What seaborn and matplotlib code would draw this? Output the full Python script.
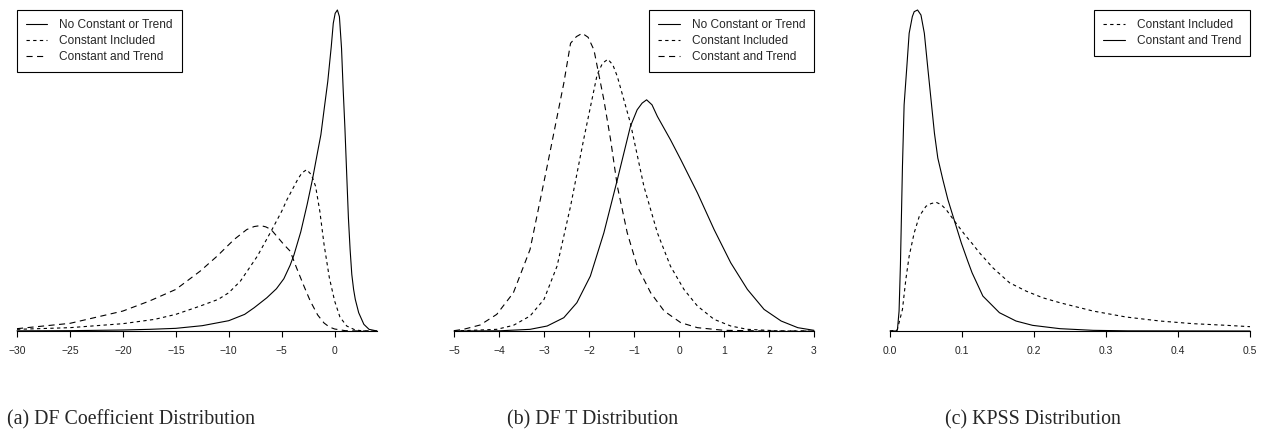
import pandas as pd
import matplotlib.pyplot as plt
import seaborn as sns

# ---- (a) DF coefficient distribution ----
a_none_x = [-30, -25, -20, -17.5, -15, -12.5, -10, -8.5, -7.6, -6.4, -5.5, -4.8, -4.2, -3.85, -3.2,
            -2.6, -2.1, -1.6, -1.3, -0.97, -0.65, -0.32, -0.13, 0.05, 0.26, 0.45, 0.65, 0.8, 0.97,
            1.14, 1.3, 1.46, 1.62, 1.79, 1.95, 2.27, 2.76, 3.25, 4.0]
a_none_y = [0.0005, 0.001, 0.003, 0.005, 0.008, 0.016, 0.031, 0.050, 0.070, 0.100, 0.127, 0.157, 0.198,
            0.228, 0.298, 0.380, 0.455, 0.540, 0.590, 0.672, 0.750, 0.855, 0.925, 0.955, 0.965, 0.945,
            0.850, 0.730, 0.610, 0.470, 0.340, 0.245, 0.170, 0.125, 0.095, 0.055, 0.020, 0.005, 0.0]
a_const_x = [-30, -25, -20, -17, -15, -12.7, -11, -10, -8.9, -7.3, -6.0, -5.0, -4.5, -3.5, -3.1, -2.65,
             -2.2, -1.8, -1.4, -1.0, -0.5, 0.0, 0.5, 1.14, 1.95, 2.8, 4.0]
a_const_y = [0.005, 0.010, 0.022, 0.035, 0.050, 0.075, 0.095, 0.115, 0.150, 0.225, 0.300, 0.360, 0.395,
             0.455, 0.475, 0.485, 0.470, 0.435, 0.360, 0.260, 0.160, 0.090, 0.042, 0.015, 0.003, 0.0,
             0.0]
a_trend_x = [-30, -25, -20, -17.5, -15, -12.7, -11.1, -9.5, -8.3, -7.6, -7.0, -6.5, -6.0, -4.8, -4.2,
             -3.6, -2.9, -2.3, -1.6, -1.0, -0.5, 0.0, 1.0, 2.5, 4.0]
a_trend_y = [0.007, 0.023, 0.060, 0.090, 0.125, 0.180, 0.225, 0.275, 0.305, 0.314, 0.317, 0.313, 0.305,
             0.260, 0.240, 0.190, 0.135, 0.090, 0.048, 0.024, 0.012, 0.006, 0.001, 0.0, 0.0]

# ---- (b) DF t distribution ----
b_none_x = [-5, -4, -3.31, -2.93, -2.56, -2.27, -1.97, -1.67, -1.37, -1.08, -0.93, -0.82, -0.72, -0.6,
            -0.48, -0.19, 0.04, 0.41, 0.78, 1.15, 1.52, 1.89, 2.27, 2.64, 3.0]
b_none_y = [0.0, 0.0005, 0.005, 0.015, 0.040, 0.085, 0.165, 0.295, 0.455, 0.615, 0.665, 0.685, 0.695,
            0.680, 0.645, 0.575, 0.515, 0.415, 0.305, 0.205, 0.125, 0.065, 0.030, 0.010, 0.002]
b_const_x = [-5, -4.05, -3.68, -3.31, -3.0, -2.71, -2.41, -2.12, -1.82, -1.70, -1.58, -1.47, -1.37,
             -1.08, -0.78, -0.48, -0.19, 0.11, 0.41, 0.78, 1.15, 1.52, 2.27, 3.0]
b_const_y = [0.0, 0.005, 0.017, 0.045, 0.095, 0.195, 0.375, 0.575, 0.770, 0.805, 0.817, 0.800, 0.765,
             0.625, 0.435, 0.295, 0.195, 0.125, 0.075, 0.035, 0.015, 0.005, 0.0, 0.0]
b_trend_x = [-5, -4.79, -4.42, -4.05, -3.68, -3.31, -2.93, -2.56, -2.41, -2.28, -2.15, -2.02, -1.89,
             -1.67, -1.52, -1.37, -1.15, -0.93, -0.63, -0.33, 0.04, 0.41, 1.0, 2.0, 3.0]
b_trend_y = [0.001, 0.005, 0.018, 0.050, 0.115, 0.245, 0.495, 0.745, 0.865, 0.885, 0.895, 0.883, 0.845,
             0.695, 0.575, 0.435, 0.295, 0.195, 0.115, 0.060, 0.025, 0.010, 0.002, 0.0, 0.0]

# ---- (c) KPSS distribution ----
c_const_x = [0.0, 0.0100, 0.0173, 0.022, 0.0266, 0.0336, 0.0407, 0.050, 0.057, 0.064, 0.071, 0.078,
             0.0897, 0.1037, 0.1145, 0.1243, 0.1429, 0.166, 0.189, 0.212, 0.236, 0.282, 0.328, 0.375,
             0.421, 0.468, 0.5]
c_const_y = [0.0, 0.003, 0.065, 0.155, 0.225, 0.295, 0.345, 0.375, 0.383, 0.387, 0.380, 0.365, 0.330,
             0.290, 0.262, 0.235, 0.190, 0.145, 0.120, 0.100, 0.085, 0.060, 0.042, 0.030, 0.022,
             0.017, 0.013]
c_trend_x = [0.0, 0.0080, 0.0103, 0.0126, 0.0145, 0.0173, 0.0196, 0.0234, 0.0266, 0.031, 0.0336,
             0.0383, 0.043, 0.0477, 0.0523, 0.057, 0.0617, 0.0664, 0.0734, 0.0804, 0.0897, 0.099,
             0.108, 0.114, 0.129, 0.152, 0.175, 0.198, 0.236, 0.282, 0.33, 0.5]
c_trend_y = [0.0, 0.0, 0.003, 0.060, 0.200, 0.495, 0.680, 0.795, 0.895, 0.945, 0.960, 0.965, 0.950,
             0.895, 0.795, 0.695, 0.595, 0.520, 0.455, 0.395, 0.330, 0.265, 0.210, 0.175, 0.105,
             0.055, 0.030, 0.017, 0.007, 0.002, 0.0005, 0.0]

captions = ["(a) DF Coefficient Distribution", "(b) DF T Distribution", "(c) KPSS Distribution"]


def make_frame(parts):
    frames = []
    for name, xs, ys in parts:
        frames.append(pd.DataFrame({"x": xs, "density": ys, "series": name}))
    return pd.concat(frames, ignore_index=True)


sns.set_style("white")
plt.rcParams["font.family"] = ["Liberation Sans", "DejaVu Sans"]

dash_map = {
    "No Constant or Trend": "",
    "Constant Included": (3, 3),
    "Constant and Trend": (5.5, 4),
}

panels = [
    {
        "df": make_frame([("No Constant or Trend", a_none_x, a_none_y),
                          ("Constant Included", a_const_x, a_const_y),
                          ("Constant and Trend", a_trend_x, a_trend_y)]),
        "order": ["No Constant or Trend", "Constant Included", "Constant and Trend"],
        "dashes": dash_map,
        "xlim": (-30, 4), "ticks": [-30, -25, -20, -15, -10, -5, 0],
        "labels": None, "loc": "upper left", "left": 17,
    },
    {
        "df": make_frame([("No Constant or Trend", b_none_x, b_none_y),
                          ("Constant Included", b_const_x, b_const_y),
                          ("Constant and Trend", b_trend_x, b_trend_y)]),
        "order": ["No Constant or Trend", "Constant Included", "Constant and Trend"],
        "dashes": dash_map,
        "xlim": (-5, 3), "ticks": [-5, -4, -3, -2, -1, 0, 1, 2, 3],
        "labels": None, "loc": "upper right", "left": 454,
    },
    {
        "df": make_frame([("Constant Included", c_const_x, c_const_y),
                          ("Constant and Trend", c_trend_x, c_trend_y)]),
        "order": ["Constant Included", "Constant and Trend"],
        "dashes": {"Constant Included": (3, 3), "Constant and Trend": ""},
        "xlim": (0, 0.5), "ticks": [0.0, 0.1, 0.2, 0.3, 0.4, 0.5],
        "labels": ["0.0", "0.1", "0.2", "0.3", "0.4", "0.5"], "loc": "upper right", "left": 890,
    },
]

W, H = 1264, 438
fig = plt.figure(figsize=(W / 100, H / 100), dpi=100)

for p in panels:
    ax = fig.add_axes([p["left"] / W, (H - 331) / H, 360 / W, 321 / H])
    sns.lineplot(data=p["df"], x="x", y="density", style="series", style_order=p["order"],
                 dashes=p["dashes"], color="black", linewidth=0.8, estimator=None, sort=False,
                 ax=ax)
    ax.set_xlim(*p["xlim"])
    ax.set_ylim(0, 0.965)
    ax.set_xticks(p["ticks"])
    if p["labels"]:
        ax.set_xticklabels(p["labels"])
    ax.set_yticks([])
    ax.set_xlabel("")
    ax.set_ylabel("")
    for s in ["top", "left", "right"]:
        ax.spines[s].set_visible(False)
    ax.spines["bottom"].set_color("black")
    ax.spines["bottom"].set_linewidth(0.8)
    ax.tick_params(axis="x", direction="out", length=4.5, width=0.8, color="black",
                   labelsize=7.5, pad=6, bottom=True)
    ax.set_facecolor("white")
    for line in ax.lines:
        line.set_clip_on(False)
    sns.move_legend(ax, p["loc"], bbox_to_anchor=(0, 1) if p["loc"] == "upper left" else (1, 1),
                    title=None, frameon=True, fancybox=False, fontsize=8.6, handlelength=1.8,
                    handletextpad=1.0, borderaxespad=0, borderpad=0.75, labelspacing=0.34,
                    edgecolor="black", framealpha=1)
    ax.get_legend().get_frame().set_linewidth(0.8)

for text, xpix in zip(captions, [7, 507, 945]):
    fig.text(xpix / W, 1 - 420 / H, text, ha="left", va="center",
             family=["Liberation Serif", "DejaVu Serif"], fontsize=14.3)

fig.savefig("out.png", dpi=100)
